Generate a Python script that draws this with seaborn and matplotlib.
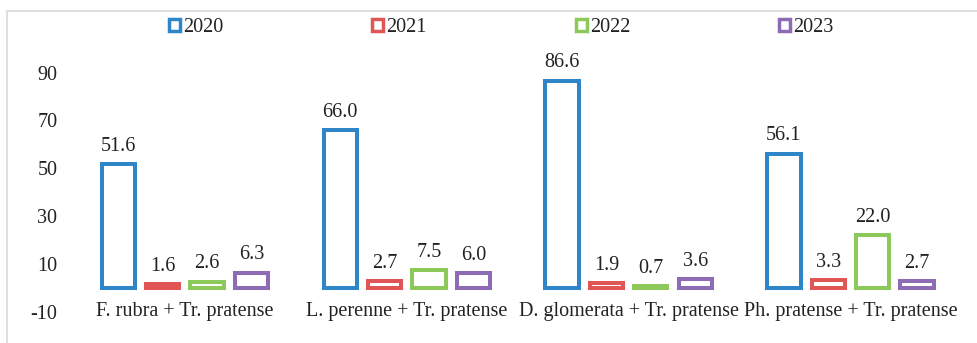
import matplotlib
matplotlib.use("Agg")
import matplotlib.pyplot as plt
from matplotlib.patches import Patch, Rectangle
import pandas as pd
import seaborn as sns

# Seed-mixture combinations and yearly values
combos = ["F. rubra + Tr. pratense", "L. perenne + Tr. pratense",
          "D. glomerata + Tr. pratense", "Ph. pratense + Tr. pratense"]
years = ["2020", "2021", "2022", "2023"]
v2020 = [51.6, 66.0, 86.6, 56.1]
v2021 = [1.6, 2.7, 1.9, 3.3]
v2022 = [2.6, 7.5, 0.7, 22.0]
v2023 = [6.3, 6.0, 3.6, 2.7]
yticks = [-10, 10, 30, 50, 70, 90]
colors = ["#2E86C8", "#E05555", "#8CC85A", "#8E6BB5"]

series = {"2020": v2020, "2021": v2021, "2022": v2022, "2023": v2023}
df = pd.DataFrame(
    [(c, y, series[y][i]) for y in years for i, c in enumerate(combos)],
    columns=["combo", "year", "value"],
)

FS = 14.5

sns.set_theme(style="white")
plt.rcParams["font.family"] = ["Liberation Serif", "DejaVu Serif"]

fig = plt.figure(figsize=(9.77, 3.43), dpi=100)
ax = fig.add_axes([0.0757, 0.0913, 0.9083, 0.7667])

sns.barplot(data=df, x="combo", y="value", hue="year", order=combos,
            hue_order=years, palette=colors, fill=False, gap=0.25,
            linewidth=2.9, errorbar=None, ax=ax, legend=False)

for cont in ax.containers:
    for bar in cont:
        bar.set_facecolor("white")
        bar.set_joinstyle("miter")
    ax.bar_label(cont, fmt="%.1f", padding=6, fontsize=FS, color="#222222")

ax.set_ylim(-10, 100)
ax.set_xlim(-0.5, 3.5)
ax.set_yticks(yticks)
ax.set_yticklabels([str(t) for t in yticks])
ax.tick_params(axis="y", length=0, pad=12, labelsize=FS, labelcolor="#222222")
ax.tick_params(axis="x", length=0, labelbottom=False)
ax.set_xlabel("")
ax.set_ylabel("")
for s in ax.spines.values():
    s.set_visible(False)

for i, c in enumerate(combos):
    ax.text(i, -10, c, ha="center", va="center", fontsize=FS, color="#222222")

handles = [Patch(facecolor="white", edgecolor=col, linewidth=2.5) for col in colors]
fig.legend(handles, years, loc="center", bbox_to_anchor=(0.513, 0.92), ncol=4,
           frameon=False, fontsize=FS, handlelength=0.55, handleheight=0.55,
           handletextpad=0.15, columnspacing=7.4, labelcolor="#222222")

fig.patches.append(Rectangle((7 / 977, -0.05), 1.1, 1.018, transform=fig.transFigure,
                             fill=False, edgecolor="#d9d9d9", linewidth=1.2))

fig.savefig("out.png", dpi=100)
